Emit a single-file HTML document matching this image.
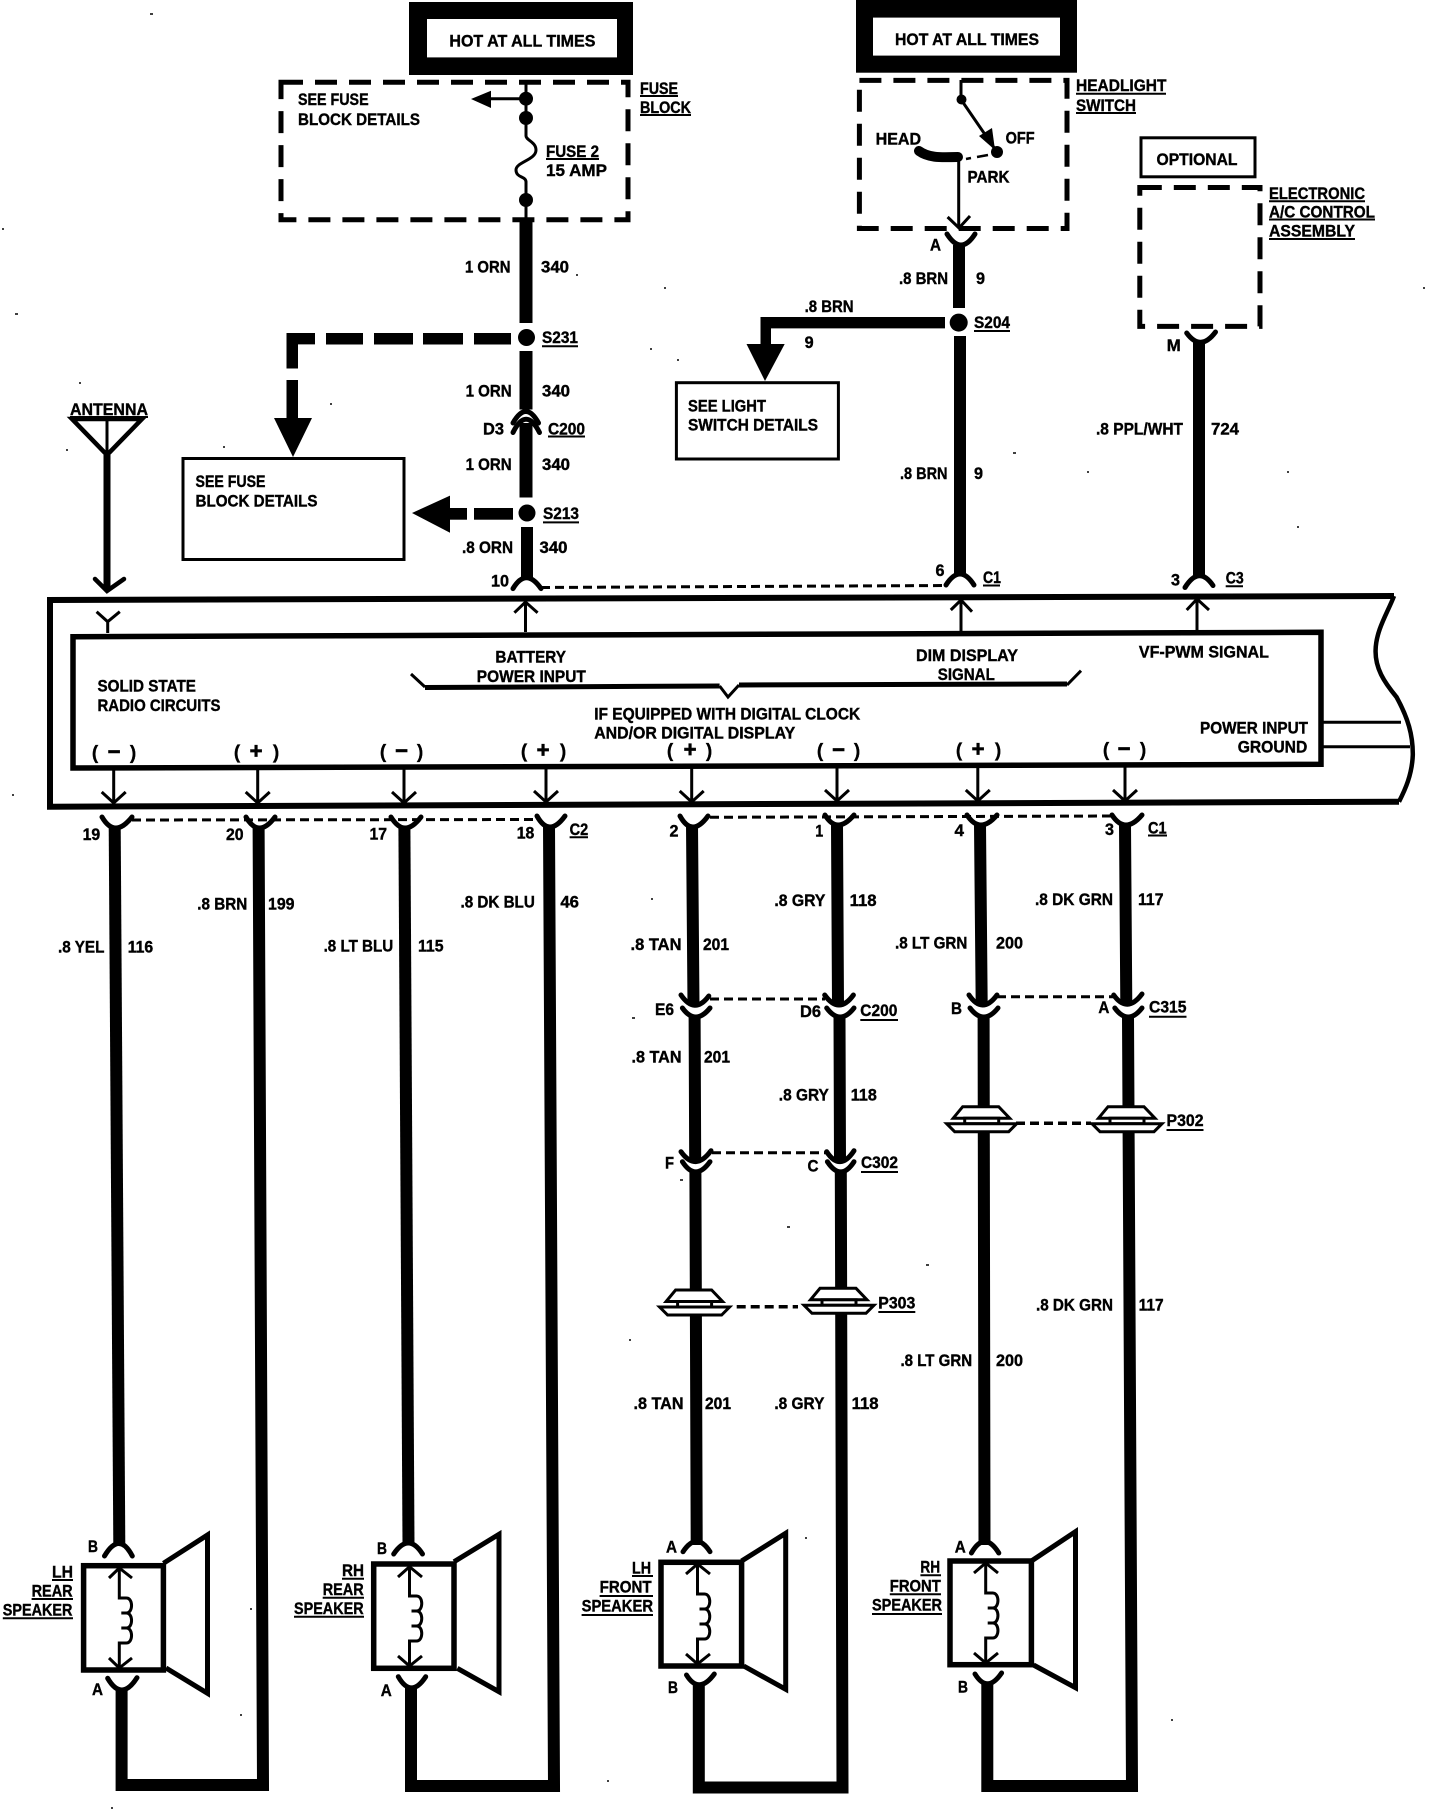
<!DOCTYPE html>
<html lang="en"><head><meta charset="utf-8"><title>Radio wiring diagram</title>
<style>
html,body{margin:0;padding:0;background:#fff}
svg{display:block}
text{font-family:"Liberation Sans",sans-serif;font-weight:bold;font-size:17px;fill:#000;stroke:#000;stroke-width:.4}
.w{fill:none;stroke:#000;stroke-width:12;stroke-linejoin:miter}
.t{fill:none;stroke:#000;stroke-width:3}
.c{fill:none;stroke:#000;stroke-width:5;stroke-linecap:round}
.d{fill:none;stroke:#000;stroke-width:5;stroke-dasharray:22 12}
.h{fill:none;stroke:#000;stroke-width:3;stroke-dasharray:9 5}
.u{fill:none;stroke:#000;stroke-width:2}
.b{fill:#fff;stroke:#000;stroke-width:3}
.p{fill:#fff;stroke:#000;stroke-width:3}
.s{font-size:22px;text-anchor:middle;stroke-width:.7}
.q{font-size:19px;text-anchor:middle;stroke-width:.3}
</style></head><body>
<svg xmlns="http://www.w3.org/2000/svg" width="1456" height="1810" viewBox="0 0 1456 1810">
<rect width="1456" height="1810" fill="#fff"/>

<!-- specks -->
<path fill="none" stroke="#000" stroke-width="1.5" d="M150 14h3M576 275h2M664 288h2M2 229h2M15 314h3M79 383h2M330 404h2M223 447h2M66 450h2M650 349h2M677 360h2M1013 453h3M1087 472h2M1287 472h2M1297 527h2M1423 288h2M12 795h2M651 899h2M787 1227h3M926 1265h3M632 1018h3M680 1180h3M629 1340h2M250 1609h2M240 1715h2M111 1808h2M805 1538h2M607 1781h2M1171 1720h2"/>

<!-- hot boxes -->
<rect x="409" y="2" width="224" height="73"/><rect x="427" y="19" width="190" height="38.4" fill="#fff"/>
<rect x="856" y="0" width="221" height="72.7"/><rect x="873" y="17.6" width="187" height="38" fill="#fff"/>
<text x="449.4" y="46.7" textLength="146" lengthAdjust="spacingAndGlyphs">HOT AT ALL TIMES</text>
<text x="895" y="45.2" textLength="144" lengthAdjust="spacingAndGlyphs">HOT AT ALL TIMES</text>

<!-- fuse block -->
<rect class="d" x="281" y="82.3" width="347" height="137.4"/>
<path class="t" d="M526 82V118V136C526 140 536 142 536 150C536 160 516 162 516 170C516 178 526 176 526 182V219"/>
<circle cx="526" cy="98.7" r="7"/><circle cx="526" cy="118" r="7"/><circle cx="526" cy="200" r="7"/>
<path class="t" d="M526 98.7H488"/><polygon points="471,99 491,90.7 491,108"/>
<text x="298" y="105" textLength="70.6" lengthAdjust="spacingAndGlyphs">SEE FUSE</text>
<text x="298" y="125" textLength="122" lengthAdjust="spacingAndGlyphs">BLOCK DETAILS</text>
<text x="640" y="93.8" textLength="38" lengthAdjust="spacingAndGlyphs">FUSE</text>
<text x="640" y="113" textLength="51" lengthAdjust="spacingAndGlyphs">BLOCK</text>
<text x="546" y="157" textLength="53" lengthAdjust="spacingAndGlyphs">FUSE 2</text>
<text x="546" y="176" textLength="61" lengthAdjust="spacingAndGlyphs">15 AMP</text>
<path class="u" d="M640 96H678M640 115H691M546 159H599"/>

<!-- 340 wire -->
<path class="w" style="stroke-width:13" d="M526 219V323M526 351V409.5M526 423V497.5"/>
<path class="w" d="M527 527V578"/>
<circle cx="526.5" cy="337.5" r="8.5"/><circle cx="527" cy="513" r="8.5"/>
<path class="c" d="M513 423Q526 400 538.5 423"/><path class="c" d="M513 432.5Q526 406 539.5 432.5"/>
<path class="c" d="M513 588.6Q526 567 541 588.6"/>
<text x="465" y="272.5" textLength="45.5" lengthAdjust="spacingAndGlyphs">1 ORN</text><text x="541" y="272.5" textLength="28" lengthAdjust="spacingAndGlyphs">340</text>
<text x="542" y="343" textLength="36" lengthAdjust="spacingAndGlyphs">S231</text>
<text x="465.6" y="396.5" textLength="46" lengthAdjust="spacingAndGlyphs">1 ORN</text><text x="542" y="396.5" textLength="28" lengthAdjust="spacingAndGlyphs">340</text>
<text x="483" y="434.4" textLength="21" lengthAdjust="spacingAndGlyphs">D3</text><text x="548" y="434.4" textLength="37" lengthAdjust="spacingAndGlyphs">C200</text>
<text x="465.6" y="470" textLength="46" lengthAdjust="spacingAndGlyphs">1 ORN</text><text x="542" y="470" textLength="28" lengthAdjust="spacingAndGlyphs">340</text>
<text x="543" y="519" textLength="36" lengthAdjust="spacingAndGlyphs">S213</text>
<text x="462" y="553" textLength="51" lengthAdjust="spacingAndGlyphs">.8 ORN</text><text x="539.5" y="553" textLength="28" lengthAdjust="spacingAndGlyphs">340</text>
<text x="491" y="586.3" textLength="18" lengthAdjust="spacingAndGlyphs">10</text>
<path class="u" d="M542 346.3H578M548 436.5H585M543 522.4H579"/>
<path class="h" d="M541 587.5L946 585.5"/>

<!-- dashed branch S231 -->
<path d="M286.5 333H315V344.4H298V368.5H286.5Z"/>
<rect x="326" y="333" width="37" height="11.5"/><rect x="374" y="333" width="39" height="11.5"/><rect x="423" y="333" width="40" height="11.5"/><rect x="474" y="333" width="37" height="11.5"/>
<rect x="286.5" y="380" width="11.5" height="40"/>
<polygon points="274,418 312,418 293,457"/>
<!-- S213 branch -->
<polygon points="412,513 450,495.6 450,532.7"/><rect x="450" y="508" width="17" height="11.7"/><rect x="474" y="508" width="39" height="11.7"/>
<rect class="b" x="183" y="458.5" width="221" height="101"/>
<text x="195.5" y="487" textLength="70" lengthAdjust="spacingAndGlyphs">SEE FUSE</text>
<text x="195.5" y="506.3" textLength="122" lengthAdjust="spacingAndGlyphs">BLOCK DETAILS</text>

<!-- antenna -->
<text x="70" y="415" textLength="78" lengthAdjust="spacingAndGlyphs">ANTENNA</text><path class="u" d="M70 417H148"/>
<path class="c" style="stroke-linecap:butt;stroke-linejoin:miter;stroke-width:4.5" d="M72 419H142L107 455Z"/><path class="t" d="M107 419V455"/>
<path class="w" style="stroke-width:7" d="M107 455V589"/>
<path class="c" style="stroke-linecap:round;stroke-width:4.5" d="M95 579L107 591L124 579"/>

<!-- headlight switch -->
<rect class="d" x="859.4" y="80.4" width="207.6" height="148.1"/>
<text x="1076" y="91" textLength="90.5" lengthAdjust="spacingAndGlyphs">HEADLIGHT</text><text x="1076" y="111" textLength="60" lengthAdjust="spacingAndGlyphs">SWITCH</text>
<path class="u" d="M1076 93.8H1166M1076 113H1136"/>
<path class="t" d="M961 80V99.5L997 152"/><circle cx="961.5" cy="99.5" r="5"/><circle cx="997" cy="152" r="6"/>
<polygon points="995,150 979,136 992,128"/>
<text x="875.6" y="144.7" textLength="45.5" lengthAdjust="spacingAndGlyphs">HEAD</text>
<text x="1005.6" y="143.5" textLength="29" lengthAdjust="spacingAndGlyphs">OFF</text>
<text x="967.5" y="182.5" textLength="42" lengthAdjust="spacingAndGlyphs">PARK</text>
<path fill="none" stroke="#000" stroke-width="10" stroke-linecap="round" d="M919 151C930 159 945 157 958 157"/>
<path class="t" style="stroke-width:2.5" d="M966 159L971 158M977 157L988 155"/>
<path class="t" d="M958.7 157V226"/><path class="t" d="M947.6 217L959 228L970 216"/>
<path class="c" d="M947 234Q961 256 975 234"/>
<path class="w" d="M959 245V308M960 336V574"/>
<circle cx="958.7" cy="322.6" r="9"/>
<text x="930" y="250.7" textLength="11" lengthAdjust="spacingAndGlyphs">A</text>
<text x="899" y="284" textLength="49" lengthAdjust="spacingAndGlyphs">.8 BRN</text><text x="976" y="284" textLength="9" lengthAdjust="spacingAndGlyphs">9</text>
<text x="974" y="328" textLength="36" lengthAdjust="spacingAndGlyphs">S204</text><path class="u" d="M974 331H1010"/>
<path d="M945 317V328.4H771V344H760.5V317Z"/><polygon points="746.5,344 784.7,344 765,381"/>
<text x="804.6" y="312" textLength="49" lengthAdjust="spacingAndGlyphs">.8 BRN</text><text x="804.6" y="348" textLength="9" lengthAdjust="spacingAndGlyphs">9</text>
<rect class="b" x="676.4" y="382.7" width="162" height="76.3"/>
<text x="688" y="411.4" textLength="78" lengthAdjust="spacingAndGlyphs">SEE LIGHT</text>
<text x="688" y="430.5" textLength="130" lengthAdjust="spacingAndGlyphs">SWITCH DETAILS</text>
<text x="900" y="479" textLength="47.5" lengthAdjust="spacingAndGlyphs">.8 BRN</text><text x="974" y="479" textLength="9" lengthAdjust="spacingAndGlyphs">9</text>
<path class="c" d="M946 585Q960 563 974 585"/>
<text x="935.5" y="576" textLength="9" lengthAdjust="spacingAndGlyphs">6</text>
<text x="983" y="583" textLength="18" lengthAdjust="spacingAndGlyphs">C1</text><path class="u" d="M983 585.5H1000"/>

<!-- optional A/C -->
<rect class="b" x="1141" y="137.8" width="114" height="39"/>
<text x="1156.5" y="165" textLength="81" lengthAdjust="spacingAndGlyphs">OPTIONAL</text>
<rect class="d" x="1139.8" y="187.5" width="120.2" height="138.9"/>
<text x="1269" y="199" textLength="96" lengthAdjust="spacingAndGlyphs">ELECTRONIC</text>
<text x="1269" y="217.4" textLength="106" lengthAdjust="spacingAndGlyphs">A/C CONTROL</text>
<text x="1269" y="236.5" textLength="86" lengthAdjust="spacingAndGlyphs">ASSEMBLY</text>
<path class="u" d="M1269 201.2H1365M1269 219.5H1375M1269 239H1355"/>
<path class="c" d="M1186.7 333Q1200.6 352 1215.5 332"/>
<text x="1166.7" y="351" textLength="14" lengthAdjust="spacingAndGlyphs">M</text>
<path class="w" d="M1199 342V576"/>
<text x="1096" y="434.4" textLength="87" lengthAdjust="spacingAndGlyphs">.8 PPL/WHT</text><text x="1211" y="434.4" textLength="28" lengthAdjust="spacingAndGlyphs">724</text>
<path class="c" d="M1185 587.5Q1199 565 1213 585.5"/>
<text x="1171" y="585.5" textLength="9" lengthAdjust="spacingAndGlyphs">3</text>
<text x="1225.7" y="583.6" textLength="18" lengthAdjust="spacingAndGlyphs">C3</text><path class="u" d="M1225.7 586.3H1243"/>

<!-- radio outline -->
<path fill="none" stroke="#000" stroke-width="6" d="M1394 596L50 600V806.7L1399 801.7"/>
<path fill="none" stroke="#000" stroke-width="4.5" d="M1394 596C1388 612 1376 630 1375.6 650C1375 668 1384 682 1396.5 697C1408 718 1413 735 1412.8 755C1412 775 1405 790 1399 801.7"/>
<path fill="none" stroke="#000" stroke-width="5.5" d="M73 636.7L1321 632.3V764.3L73 768Z"/>
<path class="t" d="M1321 722.3H1401M1321 746.7H1410"/>
<!-- ports up -->
<path class="t" d="M107.7 633V621.7L96.6 611.7M107.7 621.7L119.8 611.7"/>
<path class="t" d="M525.5 632V602M514.4 612.7L525.5 602L537.6 612.7"/>
<path class="t" d="M961 631V600M950.8 610L961 600L972 611.7"/>
<path class="t" d="M1197 631V599M1186.7 610L1197 599L1209 610"/>
<!-- ports down -->
<path class="t" d="M113.7 768V802M101.7 792L113.7 803L125.7 792"/>
<path class="t" d="M257.7 768V802M245.7 792L257.7 803L269.7 792"/>
<path class="t" d="M404 767V802M392 792L404 803L416 792"/>
<path class="t" d="M546 766V801M534 791L546 802L558 791"/>
<path class="t" d="M691.7 766V801M679.7 791L691.7 802L703.7 791"/>
<path class="t" d="M837 765V800M825 790L837 801L849 790"/>
<path class="t" d="M977.8 765V800M965.8 790L977.8 801L989.8 790"/>
<path class="t" d="M1125 765V800M1113 790L1125 801L1137 790"/>
<!-- inner text -->
<text x="97.5" y="691.7" textLength="98.4" lengthAdjust="spacingAndGlyphs">SOLID STATE</text>
<text x="97.5" y="711" textLength="123" lengthAdjust="spacingAndGlyphs">RADIO CIRCUITS</text>
<text x="495.4" y="662.7" textLength="70.6" lengthAdjust="spacingAndGlyphs">BATTERY</text>
<text x="476.8" y="682" textLength="109" lengthAdjust="spacingAndGlyphs">POWER INPUT</text>
<text x="916" y="661" textLength="102" lengthAdjust="spacingAndGlyphs">DIM DISPLAY</text>
<text x="937.8" y="680" textLength="57" lengthAdjust="spacingAndGlyphs">SIGNAL</text>
<text x="1138.9" y="657.3" textLength="130" lengthAdjust="spacingAndGlyphs">VF-PWM SIGNAL</text>
<text x="1200" y="733.3" textLength="108" lengthAdjust="spacingAndGlyphs">POWER INPUT</text>
<text x="1237.7" y="752.3" textLength="69.6" lengthAdjust="spacingAndGlyphs">GROUND</text>
<text x="594.2" y="719.3" textLength="266" lengthAdjust="spacingAndGlyphs">IF EQUIPPED WITH DIGITAL CLOCK</text>
<text x="594.2" y="738.3" textLength="201" lengthAdjust="spacingAndGlyphs">AND/OR DIGITAL DISPLAY</text>
<path fill="none" stroke="#000" stroke-width="3" d="M411 674L425 687M1067 685L1081 670.7M719.6 686L728 697L739 685"/>
<path fill="none" stroke="#000" stroke-width="5" d="M425 687.5L719.6 686M739 685L1067 684"/>
<text class="q" x="95" y="759">(</text><text class="s" x="114" y="759">−</text><text class="q" x="133" y="759">)</text>
<text class="q" x="237" y="758.5">(</text><text class="s" x="256" y="758.5">+</text><text class="q" x="276" y="758.5">)</text>
<text class="q" x="383" y="758">(</text><text class="s" x="401.6" y="758">−</text><text class="q" x="420" y="758">)</text>
<text class="q" x="524" y="757.5">(</text><text class="s" x="543" y="757.5">+</text><text class="q" x="563" y="757.5">)</text>
<text class="q" x="670" y="757">(</text><text class="s" x="690" y="757">+</text><text class="q" x="709" y="757">)</text>
<text class="q" x="820" y="757">(</text><text class="s" x="838.5" y="757">−</text><text class="q" x="857" y="757">)</text>
<text class="q" x="959" y="756.5">(</text><text class="s" x="978" y="756.5">+</text><text class="q" x="998" y="756.5">)</text>
<text class="q" x="1106" y="756">(</text><text class="s" x="1124" y="756">−</text><text class="q" x="1143" y="756">)</text>

<!-- bottom connectors row -->
<path class="h" d="M132 820L538 819.5"/><path class="h" d="M710 817.3L1113 816"/>
<path class="c" d="M102 817Q114.7 839 132 817"/>
<path class="c" d="M246 817Q258.6 839 275 817"/>
<path class="c" d="M391 817Q404.4 839 421 817"/>
<path class="c" d="M537 816Q549 838 565 816"/>
<path class="c" d="M680 816Q692 838 708 816"/>
<path class="c" d="M825 815Q837 835 854 815"/>
<path class="c" d="M967 815Q980 835 997 815"/>
<path class="c" d="M1112 815Q1125 835 1142 815"/>
<text x="82.6" y="840" textLength="17.6" lengthAdjust="spacingAndGlyphs">19</text>
<text x="226" y="840" textLength="17.6" lengthAdjust="spacingAndGlyphs">20</text>
<text x="369.5" y="839.3" textLength="17.6" lengthAdjust="spacingAndGlyphs">17</text>
<text x="516.7" y="838.3" textLength="17.6" lengthAdjust="spacingAndGlyphs">18</text>
<text x="569.6" y="835" textLength="18.6" lengthAdjust="spacingAndGlyphs">C2</text><path class="u" d="M569.6 837.3H588"/>
<text x="669.5" y="836.7" textLength="9" lengthAdjust="spacingAndGlyphs">2</text>
<text x="815.3" y="836.7" textLength="8" lengthAdjust="spacingAndGlyphs">1</text>
<text x="954.5" y="836" textLength="9.5" lengthAdjust="spacingAndGlyphs">4</text>
<text x="1105" y="835" textLength="9" lengthAdjust="spacingAndGlyphs">3</text>
<text x="1148" y="833.3" textLength="18.6" lengthAdjust="spacingAndGlyphs">C1</text><path class="u" d="M1148 835.5H1167"/>

<!-- long wires -->
<path class="w" d="M114.7 826L119.3 1545"/>
<path class="w" d="M258.6 826L263 1785H121.6V1689"/>
<path class="w" d="M404.4 826L408.5 1545"/>
<path class="w" d="M549 825L554 1786H411V1687"/>
<path class="w" d="M692 825L693.5 1005M694.6 1016L695.2 1162M695.4 1171L696.7 1545"/>
<path class="w" d="M837 825L838 1005M839.5 1017L840 1162M840.8 1171L842.5 1787.5H698.8V1684"/>
<path class="w" d="M980 825L981.7 1005M983.6 1017L984.5 1545"/>
<path class="w" d="M1125 825L1126.3 1004M1128 1017L1132 1786H987.3V1683"/>

<!-- wire labels -->
<text x="58" y="952.7" textLength="46.4" lengthAdjust="spacingAndGlyphs">.8 YEL</text><text x="127.7" y="952.7" textLength="25.5" lengthAdjust="spacingAndGlyphs">116</text>
<text x="197.3" y="909.3" textLength="50" lengthAdjust="spacingAndGlyphs">.8 BRN</text><text x="268" y="909.3" textLength="26.5" lengthAdjust="spacingAndGlyphs">199</text>
<text x="323.6" y="951.7" textLength="69.6" lengthAdjust="spacingAndGlyphs">.8 LT BLU</text><text x="418" y="951.7" textLength="25.5" lengthAdjust="spacingAndGlyphs">115</text>
<text x="460.5" y="907.3" textLength="74.3" lengthAdjust="spacingAndGlyphs">.8 DK BLU</text><text x="560.4" y="907.3" textLength="18.6" lengthAdjust="spacingAndGlyphs">46</text>
<text x="630.5" y="950" textLength="51" lengthAdjust="spacingAndGlyphs">.8 TAN</text><text x="703" y="950" textLength="26" lengthAdjust="spacingAndGlyphs">201</text>
<text x="774.4" y="906" textLength="51" lengthAdjust="spacingAndGlyphs">.8 GRY</text><text x="849.6" y="906" textLength="27" lengthAdjust="spacingAndGlyphs">118</text>
<text x="895" y="948.3" textLength="72.4" lengthAdjust="spacingAndGlyphs">.8 LT GRN</text><text x="996" y="948.3" textLength="27" lengthAdjust="spacingAndGlyphs">200</text>
<text x="1035" y="905" textLength="78" lengthAdjust="spacingAndGlyphs">.8 DK GRN</text><text x="1138" y="905" textLength="25.5" lengthAdjust="spacingAndGlyphs">117</text>
<text x="631.5" y="1062.7" textLength="50" lengthAdjust="spacingAndGlyphs">.8 TAN</text><text x="704" y="1062.7" textLength="26" lengthAdjust="spacingAndGlyphs">201</text>
<text x="778.8" y="1100.7" textLength="50" lengthAdjust="spacingAndGlyphs">.8 GRY</text><text x="850.8" y="1100.7" textLength="26" lengthAdjust="spacingAndGlyphs">118</text>
<text x="1036" y="1310.7" textLength="77" lengthAdjust="spacingAndGlyphs">.8 DK GRN</text><text x="1138.6" y="1310.7" textLength="25" lengthAdjust="spacingAndGlyphs">117</text>
<text x="900.5" y="1366" textLength="71.6" lengthAdjust="spacingAndGlyphs">.8 LT GRN</text><text x="996" y="1366" textLength="27" lengthAdjust="spacingAndGlyphs">200</text>
<text x="633.5" y="1409" textLength="50" lengthAdjust="spacingAndGlyphs">.8 TAN</text><text x="705" y="1409" textLength="26" lengthAdjust="spacingAndGlyphs">201</text>
<text x="774.4" y="1409" textLength="50" lengthAdjust="spacingAndGlyphs">.8 GRY</text><text x="851.6" y="1409" textLength="27" lengthAdjust="spacingAndGlyphs">118</text>

<!-- C200 / C315 -->
<path class="h" d="M710 999H825"/><path class="h" d="M997 996.7H1114"/>
<path class="c" d="M681 995Q694.6 1015 708.8 996M682.4 1008Q695.4 1026 710 1008"/>
<path class="c" d="M824.7 995Q839 1015 853.4 995M826.7 1008Q840 1026 854 1008"/>
<path class="c" d="M969 995Q982.4 1015 997 995M970 1008Q983.6 1026 998 1008"/>
<path class="c" d="M1113.7 995Q1127 1014 1142 994M1114.8 1008Q1128 1026 1142 1008"/>
<text x="655" y="1015" textLength="19" lengthAdjust="spacingAndGlyphs">E6</text>
<text x="800" y="1017" textLength="21" lengthAdjust="spacingAndGlyphs">D6</text>
<text x="860.3" y="1016" textLength="37" lengthAdjust="spacingAndGlyphs">C200</text><path class="u" d="M860.3 1020H898"/>
<text x="951" y="1014" textLength="11" lengthAdjust="spacingAndGlyphs">B</text>
<text x="1098.4" y="1013" textLength="11" lengthAdjust="spacingAndGlyphs">A</text>
<text x="1149" y="1012.7" textLength="37.5" lengthAdjust="spacingAndGlyphs">C315</text><path class="u" d="M1149 1016.7H1186.5"/>

<!-- C302 -->
<path class="h" d="M712 1152.7H827"/>
<path class="c" d="M681 1151.7Q695.4 1172 711 1150.7M682.4 1161.7Q695.4 1182 710 1161.7"/>
<path class="c" d="M826.7 1151.7Q840 1172 854 1150.7M827.4 1161.7Q840.8 1182 854 1161.7"/>
<text x="665" y="1168.3" textLength="9" lengthAdjust="spacingAndGlyphs">F</text>
<text x="807.5" y="1171.7" textLength="11" lengthAdjust="spacingAndGlyphs">C</text>
<text x="861" y="1168" textLength="37" lengthAdjust="spacingAndGlyphs">C302</text><path class="u" d="M861 1172H898"/>

<!-- pass-through plugs -->
<path class="h" style="stroke-width:3.5" d="M1016 1123.3H1091"/><path class="h" style="stroke-width:3.5" d="M736.7 1306.7H798"/>
<g transform="translate(981.7 1121.7)"><polygon class="p" points="-19,-15 17,-15 28,-3.5 -28.5,-3.5"/><rect class="p" x="-17" y="-3.5" width="34" height="5.5"/><polygon class="p" points="-35,2 35,2 27,10 -27,10"/></g>
<g transform="translate(1127 1121.7)"><polygon class="p" points="-19,-15 17,-15 28,-3.5 -28.5,-3.5"/><rect class="p" x="-17" y="-3.5" width="34" height="5.5"/><polygon class="p" points="-35,2 35,2 27,10 -27,10"/></g>
<g transform="translate(694.6 1305)"><polygon class="p" points="-19,-15 17,-15 28,-3.5 -28.5,-3.5"/><rect class="p" x="-17" y="-3.5" width="34" height="5.5"/><polygon class="p" points="-35,2 35,2 27,10 -27,10"/></g>
<g transform="translate(839 1303.3)"><polygon class="p" points="-19,-15 17,-15 28,-3.5 -28.5,-3.5"/><rect class="p" x="-17" y="-3.5" width="34" height="5.5"/><polygon class="p" points="-35,2 35,2 27,10 -27,10"/></g>
<text x="1166.5" y="1126" textLength="37" lengthAdjust="spacingAndGlyphs">P302</text><path class="u" d="M1166.5 1130H1203.5"/>
<text x="878.3" y="1308.3" textLength="37" lengthAdjust="spacingAndGlyphs">P303</text><path class="u" d="M878.3 1312H915.3"/>

<!-- speaker 1 -->
<g>
<path class="c" d="M104.5 1556Q119.3 1531 132.3 1556"/><path class="c" d="M107.7 1678.3Q121.6 1702 137 1677.7"/>
<rect x="83.6" y="1565.7" width="79.8" height="104.3" fill="none" stroke="#000" stroke-width="5.5"/>
<path class="c" style="stroke-linecap:butt;stroke-linejoin:miter" d="M163.4 1563.3L207.5 1535V1693.3L166 1668"/>
<path class="t" d="M119.3 1568V1598h7c7 0 7 15 0 15h-5h5c7 0 7 15 0 15h-5h5c7 0 7 15 0 15h-7V1668"/>
<path class="t" d="M109 1578L119.3 1568L132 1578M109 1658L119.3 1668L132 1658"/>
<text x="88" y="1552" textLength="10" lengthAdjust="spacingAndGlyphs">B</text><text x="92" y="1695" textLength="11" lengthAdjust="spacingAndGlyphs">A</text>
<text x="52" y="1577.7" textLength="21" lengthAdjust="spacingAndGlyphs">LH</text><text x="31.6" y="1596.7" textLength="41" lengthAdjust="spacingAndGlyphs">REAR</text><text x="2.8" y="1615.7" textLength="69.6" lengthAdjust="spacingAndGlyphs">SPEAKER</text>
<path class="u" d="M52 1580H73M31.6 1599H73M2.8 1618.3H73"/>
</g>
<!-- speaker 2 -->
<g>
<path class="c" d="M393.7 1554Q408.5 1532 422.5 1554"/><path class="c" d="M398.3 1676.7Q411 1699 425.7 1676.7"/>
<rect x="373.7" y="1564" width="80.3" height="104.3" fill="none" stroke="#000" stroke-width="5.5"/>
<path class="c" style="stroke-linecap:butt;stroke-linejoin:miter" d="M454 1561.7L499 1534.3V1691.7L457.3 1668.3"/>
<path class="t" d="M409.5 1566.7V1596h7c7 0 7 15 0 15h-5h5c7 0 7 15 0 15h-5h5c7 0 7 15 0 15h-7V1666"/>
<path class="t" d="M398 1577L409.5 1566.7L422 1577M398 1656L409.5 1666L422 1656"/>
<text x="377" y="1554" textLength="10" lengthAdjust="spacingAndGlyphs">B</text><text x="380.7" y="1696" textLength="11" lengthAdjust="spacingAndGlyphs">A</text>
<text x="342" y="1576" textLength="22" lengthAdjust="spacingAndGlyphs">RH</text><text x="322.7" y="1595" textLength="41" lengthAdjust="spacingAndGlyphs">REAR</text><text x="294" y="1614" textLength="69.6" lengthAdjust="spacingAndGlyphs">SPEAKER</text>
<path class="u" d="M342 1578.7H364M322.7 1597.7H364M294 1616.7H364"/>
</g>
<!-- speaker 3 -->
<g>
<path class="c" d="M683 1551.7Q696.7 1531 710 1551.7"/><path class="c" d="M686.5 1675Q698.8 1695 714.3 1674"/>
<rect x="661" y="1562.3" width="80.6" height="103.7" fill="none" stroke="#000" stroke-width="5.5"/>
<path class="c" style="stroke-linecap:butt;stroke-linejoin:miter" d="M741.6 1561L785.7 1533.3V1689.3L743.7 1666"/>
<path class="t" d="M697.5 1564V1594h7c7 0 7 15 0 15h-5h5c7 0 7 15 0 15h-5h5c7 0 7 15 0 15h-7V1664"/>
<path class="t" d="M686 1574L697.5 1564L710 1574M686 1654L697.5 1664L710 1654"/>
<text x="666" y="1552.3" textLength="11" lengthAdjust="spacingAndGlyphs">A</text><text x="668" y="1693" textLength="10" lengthAdjust="spacingAndGlyphs">B</text>
<text x="632" y="1573.3" textLength="19" lengthAdjust="spacingAndGlyphs">LH</text><text x="599.6" y="1592.7" textLength="52" lengthAdjust="spacingAndGlyphs">FRONT</text><text x="581.6" y="1611.7" textLength="71.4" lengthAdjust="spacingAndGlyphs">SPEAKER</text>
<path class="u" d="M632 1576H653M599.6 1596H653M581.6 1615H653"/>
</g>
<!-- speaker 4 -->
<g>
<path class="c" d="M971.4 1553Q984.5 1530 998.8 1553"/><path class="c" d="M975 1674Q987.3 1694 1001.6 1673"/>
<rect x="950" y="1561" width="81.4" height="103.7" fill="none" stroke="#000" stroke-width="5.5"/>
<path class="c" style="stroke-linecap:butt;stroke-linejoin:miter" d="M1031.4 1561L1075.5 1531.7V1687.7L1033.5 1665"/>
<path class="t" d="M985.7 1563V1593h7c7 0 7 15 0 15h-5h5c7 0 7 15 0 15h-5h5c7 0 7 15 0 15h-7V1663"/>
<path class="t" d="M974 1573L985.7 1563L998 1573M974 1653L985.7 1663L998 1653"/>
<text x="954.7" y="1552.3" textLength="11" lengthAdjust="spacingAndGlyphs">A</text><text x="958" y="1692.3" textLength="10" lengthAdjust="spacingAndGlyphs">B</text>
<text x="920.4" y="1572.3" textLength="19.6" lengthAdjust="spacingAndGlyphs">RH</text><text x="889.8" y="1591.7" textLength="51" lengthAdjust="spacingAndGlyphs">FRONT</text><text x="872" y="1610.7" textLength="70" lengthAdjust="spacingAndGlyphs">SPEAKER</text>
<path class="u" d="M920.4 1575.3H941M889.8 1594.3H941M872 1614H942"/>
</g>
</svg>
</body></html>
